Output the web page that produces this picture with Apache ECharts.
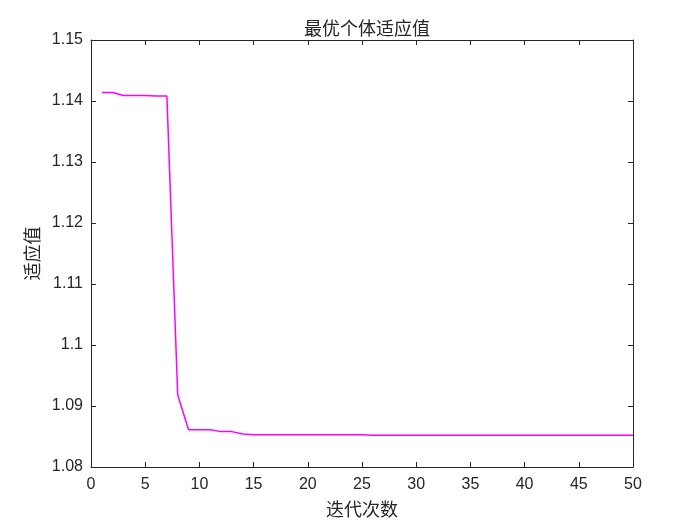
<!DOCTYPE html>
<html>
<head>
<meta charset="utf-8">
<script src="https://cdn.jsdelivr.net/npm/echarts@6/dist/echarts.min.js"></script>
<style>html,body{margin:0;padding:0;background:#fff}#main{width:700px;height:525px}</style>
</head>
<body>
<div id="main"></div>
<script>
var iterations = [];
for (var i = 1; i <= 50; i++) iterations.push(i);
var fitness = [
  1.1414, 1.1414, 1.1409, 1.1409, 1.1409, 1.1408, 1.1408, 1.0918, 1.0861, 1.0861,
  1.0861, 1.0858, 1.0858, 1.0854, 1.0853, 1.0853, 1.0853, 1.0853, 1.0853, 1.0853,
  1.0853, 1.0853, 1.0853, 1.0853, 1.0853, 1.0852, 1.0852, 1.0852, 1.0852, 1.0852,
  1.0852, 1.0852, 1.0852, 1.0852, 1.0852, 1.0852, 1.0852, 1.0852, 1.0852, 1.0852,
  1.0852, 1.0852, 1.0852, 1.0852, 1.0852, 1.0852, 1.0852, 1.0852, 1.0852, 1.0852
];

var chart = echarts.init(document.getElementById('main'));
var txt = '#262626';
var labelFont = { color: txt, fontSize: 16, fontFamily: 'Liberation Sans, Arial, sans-serif' };
var cjkFont = { color: txt, fontSize: 18, fontFamily: 'Noto Sans CJK SC' };

function axisCommon(pos, showLabel) {
  return {
    position: pos,
    axisLine: { show: true, onZero: false, lineStyle: { color: txt, width: 1 } },
    axisTick: { show: true, inside: true, length: 5, lineStyle: { color: txt } },
    splitLine: { show: false },
    axisLabel: Object.assign({ show: showLabel }, labelFont)
  };
}

chart.setOption({
  animation: false,
  backgroundColor: '#fff',
  title: {
    text: '最优个体适应值',
    left: 362, top: 14, textAlign: 'center',
    textStyle: Object.assign({ fontWeight: 'normal' }, cjkFont)
  },
  grid: { left: 91, right: 67, top: 40, bottom: 58 },
  xAxis: [
    Object.assign(axisCommon('bottom', true), {
      type: 'value', min: 0, max: 50, interval: 5,
      name: '迭代次数', nameLocation: 'middle', nameGap: 33,
      nameTextStyle: cjkFont,
      axisLabel: Object.assign({ margin: 10 }, labelFont)
    }),
    Object.assign(axisCommon('top', false), {
      type: 'value', min: 0, max: 50, interval: 5
    })
  ],
  yAxis: [
    Object.assign(axisCommon('left', true), {
      type: 'value', min: 1.08, max: 1.15, interval: 0.01,
      name: '适应值', nameLocation: 'middle', nameGap: 46,
      nameTextStyle: cjkFont,
      axisLabel: Object.assign({
        margin: 8,
        formatter: function (v) { return String(parseFloat(v.toFixed(2))); }
      }, labelFont)
    }),
    Object.assign(axisCommon('right', false), {
      type: 'value', min: 1.08, max: 1.15, interval: 0.01
    })
  ],
  series: [{
    type: 'line',
    data: iterations.map(function (x, k) { return [x, fitness[k]]; }),
    showSymbol: false,
    lineStyle: { color: '#ff00ff', width: 1.5 },
    itemStyle: { color: '#ff00ff' }
  }]
});
</script>
</body>
</html>
